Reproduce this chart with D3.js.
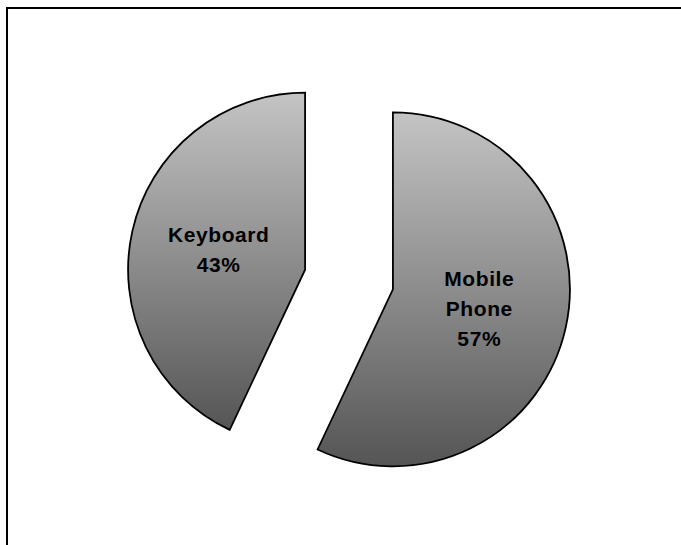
<!DOCTYPE html>
<html>
<head>
<meta charset="utf-8">
<script src="https://cdn.jsdelivr.net/npm/d3@7"></script>
<style>
  html, body { margin: 0; padding: 0; background: #fff; }
  svg { display: block; }
</style>
</head>
<body>
<svg id="chart" width="681" height="545"></svg>
<script>
const categories = ["Mobile Phone", "Keyboard"];
const values = [57, 43];

const W = 681, H = 545;
const svg = d3.select("#chart");

// frame (cropped at right and bottom in the reference)
svg.append("path")
  .attr("d", `M${W + 5},8 L7,8 L7,${H + 5}`)
  .attr("fill", "none")
  .attr("stroke", "#000")
  .attr("stroke-width", 2);

const defs = svg.append("defs");
const grad = defs.append("linearGradient")
  .attr("id", "sliceGrad")
  .attr("x1", 0).attr("y1", 0).attr("x2", 0).attr("y2", 1);
grad.append("stop").attr("offset", "0%").attr("stop-color", "#c4c4c4");
grad.append("stop").attr("offset", "100%").attr("stop-color", "#555555");

const cx = 349, cy = 279.5, R = 177, explode = 45;
const total = d3.sum(values);

const pie = d3.pie().sort(null).value(d => d.value);
const data = pie(categories.map((c, i) => ({ name: c, value: values[i] })));
const arc = d3.arc().innerRadius(0).outerRadius(R);

const g = svg.append("g").attr("transform", `translate(${cx},${cy})`);

const slices = g.selectAll("g.slice").data(data).enter().append("g")
  .attr("class", "slice")
  .attr("transform", d => {
    const a = (d.startAngle + d.endAngle) / 2;
    return `translate(${Math.sin(a) * explode},${-Math.cos(a) * explode})`;
  });

slices.append("path")
  .attr("d", arc)
  .attr("fill", "url(#sliceGrad)")
  .attr("stroke", "#000")
  .attr("stroke-width", 1.8)
  .attr("stroke-linejoin", "miter");

const lineH = 30;
slices.each(function(d) {
  const [lx, ly] = arc.centroid(d);
  const lines = d.data.name.split(" ").concat([Math.round(d.data.value / total * 100) + "%"]);
  const t = d3.select(this).append("text")
    .attr("text-anchor", "middle")
    .attr("font-family", "'Liberation Sans', Arial, sans-serif")
    .attr("font-weight", "bold")
    .attr("font-size", 21)
    .attr("letter-spacing", 0.6)
    .attr("fill", "#000");
  const y0 = ly - (lines.length - 1) * lineH / 2 + 7;
  lines.forEach((s, i) => {
    t.append("tspan").attr("x", lx).attr("y", y0 + i * lineH).text(s);
  });
});
</script>
</body>
</html>
